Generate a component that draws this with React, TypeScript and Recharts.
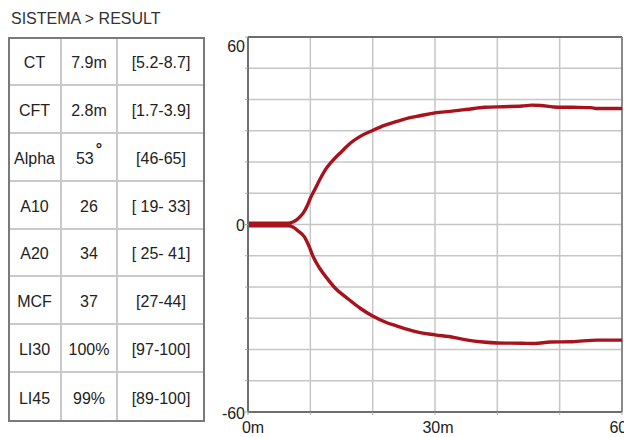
import React from 'react';
import { LineChart, Line, XAxis, YAxis, CartesianGrid, ReferenceLine } from 'recharts';

const title = 'SISTEMA > RESULT';
const paramNames = ['CT', 'CFT', 'Alpha', 'A10', 'A20', 'MCF', 'LI30', 'LI45'];
const paramValues = ['7.9m', '2.8m', '53', '26', '34', '37', '100%', '99%'];
const paramRanges = ['[5.2-8.7]', '[1.7-3.9]', '[46-65]', '[ 19- 33]', '[ 25- 41]', '[27-44]', '[97-100]', '[89-100]'];

const upperTime = [0, 6.5, 7.2, 7.8, 8.4, 8.9, 9.5, 10, 10.8, 11.5, 12.5, 13.7, 15, 16.4, 18, 20, 22, 23.9, 26, 27.6, 30, 32.4, 35, 38, 41, 44, 45.5, 47, 49, 52, 55, 56, 60];
const upperAmp = [0.42, 0.42, 0.8, 1.5, 2.6, 3.8, 6, 8.4, 11.5, 14.3, 17.8, 20.7, 23.3, 26, 28.2, 30.1, 31.8, 33, 34.2, 34.8, 35.7, 36.2, 36.8, 37.5, 37.7, 37.9, 38.2, 38.1, 37.6, 37.5, 37.4, 37.1, 37.1];

const lowerTime = [0, 6.5, 7.2, 8, 9.1, 9.8, 10.5, 11.5, 12.6, 14, 15.8, 18, 20, 22, 23.9, 26, 27.6, 30, 33, 35, 37.7, 40, 44, 46, 48.5, 52, 56, 60];
const lowerAmp = [-0.42, -0.42, -0.8, -2, -4.1, -7, -10.5, -14, -17, -20.4, -23.4, -26.8, -29.3, -31.2, -32.5, -33.8, -34.6, -35.3, -36.1, -36.9, -37.6, -37.9, -38.0, -38.1, -37.6, -37.5, -37.0, -37.0];

const yTicks = [-60, -50, -40, -30, -20, -10, 0, 10, 20, 30, 40, 50, 60];
const yTickLabels: Record<string, string> = { '60': '60', '0': '0', '-60': '-60' };
const xTicks = [0, 10, 20, 30, 40, 50, 60];
const xTickLabels: Record<string, string> = { '0': '0m', '30': '30m', '60': '60m' };

const upperData = upperTime.map((t, i) => ({ t, v: upperAmp[i] }));
const lowerData = lowerTime.map((t, i) => ({ t, v: lowerAmp[i] }));

const FONT = '"Liberation Sans", Arial, sans-serif';
const TEXT = '#222';
const TRACE = '#a8121c';

const YTick = (props: any) => {
  const { x, y, payload } = props;
  const label = yTickLabels[String(payload.value)];
  if (!label) return null;
  const dy = payload.value === 60 ? 15 : 6.8;
  return (
    <text x={x} y={y + dy} textAnchor="end" fontSize={16} fill={TEXT} fontFamily={FONT}>
      {label}
    </text>
  );
};

const XTick = (props: any) => {
  const { x, y, payload } = props;
  const label = xTickLabels[String(payload.value)];
  if (!label) return null;
  const dx = payload.value === 0 ? 5 : 3;
  return (
    <text x={x + dx} y={y + 18} textAnchor="middle" fontSize={16} fill={TEXT} fontFamily={FONT}>
      {label}
    </text>
  );
};

const colEdges = [9, 62, 118, 204];
const tableTop = 38;
const tableBottom = 421;

const Table = () => {
  const rowH = (tableBottom - tableTop) / paramNames.length;
  const cells: React.ReactNode[] = [];
  paramNames.forEach((name, r) => {
    const cols = [name, paramValues[r], paramRanges[r]];
    cols.forEach((txt, c) => {
      const left = colEdges[c];
      const width = colEdges[c + 1] - colEdges[c];
      const top = tableTop + r * rowH;
      cells.push(
        <div
          key={`${r}-${c}`}
          style={{
            position: 'absolute',
            left,
            top,
            width,
            height: rowH,
            boxSizing: 'border-box',
            borderRight: c < 2 ? '2px solid #c9c9c9' : 'none',
            borderBottom: r < paramNames.length - 1 ? '2px solid #c9c9c9' : 'none',
            display: 'flex',
            alignItems: 'center',
            justifyContent: 'center',
            paddingTop: 4,
            fontSize: 16,
            color: TEXT,
            whiteSpace: 'pre',
          }}
        >
          {txt}
          {name === 'Alpha' && c === 1 ? (
            <span style={{ position: 'relative', top: -9, fontWeight: 'bold', fontSize: 16, marginLeft: 2 }}>°</span>
          ) : null}
        </div>
      );
    });
  });
  return (
    <>
      {cells}
      <div
        style={{
          position: 'absolute',
          left: colEdges[0] - 1,
          top: tableTop - 1,
          width: colEdges[3] - colEdges[0] + 2,
          height: tableBottom - tableTop + 2,
          boxSizing: 'border-box',
          border: '2px solid #7a7a7a',
        }}
      />
    </>
  );
};

export default function App() {
  return (
    <div
      style={{
        position: 'absolute',
        left: 0,
        top: 0,
        width: 624,
        height: 437,
        overflow: 'hidden',
        background: '#fff',
        fontFamily: FONT,
      }}
    >
      <div style={{ position: 'absolute', left: 11, top: 10, fontSize: 16, color: '#333', whiteSpace: 'pre' }}>{title}</div>
      <Table />
      <div style={{ position: 'absolute', left: 200, top: 0 }}>
        <LineChart width={424} height={437} margin={{ top: 37, right: 2, bottom: 0, left: 8 }}>
          <CartesianGrid stroke="#c6c6c6" strokeWidth={1.5} />
          <XAxis
            type="number"
            dataKey="t"
            domain={[0, 60]}
            ticks={xTicks}
            interval={0}
            height={25}
            tickSize={3}
            tickMargin={0}
            tick={<XTick />}
            tickLine={{ stroke: '#aaa' }}
            axisLine={{ stroke: '#6e6e6e', strokeWidth: 2 }}
            allowDataOverflow
          />
          <YAxis
            type="number"
            domain={[-60, 60]}
            ticks={yTicks}
            interval={0}
            width={40}
            tickSize={3}
            tickMargin={0}
            tick={<YTick />}
            tickLine={{ stroke: '#aaa' }}
            axisLine={{ stroke: '#6e6e6e', strokeWidth: 2 }}
            allowDataOverflow
          />
          <ReferenceLine y={60} stroke="#6e6e6e" strokeWidth={2} />
          <ReferenceLine x={60} stroke="#8a8a8a" strokeWidth={2} />
          <Line data={upperData} dataKey="v" type="monotone" stroke={TRACE} strokeWidth={3.4} dot={false} isAnimationActive={false} />
          <Line data={lowerData} dataKey="v" type="monotone" stroke={TRACE} strokeWidth={3.4} dot={false} isAnimationActive={false} />
        </LineChart>
      </div>
    </div>
  );
}
